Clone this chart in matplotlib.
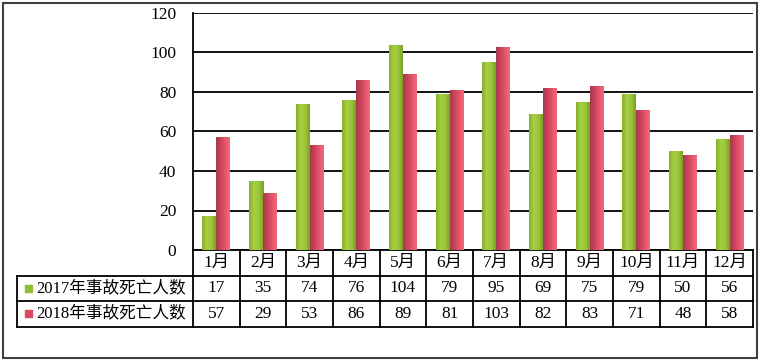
import numpy as np
import matplotlib.pyplot as plt
from matplotlib.colors import LinearSegmentedColormap
from matplotlib.patches import Rectangle
from matplotlib.lines import Line2D

plt.rcParams['font.family'] = ['Liberation Serif', 'Noto Sans CJK SC', 'DejaVu Sans']

months = ['1月', '2月', '3月', '4月', '5月', '6月', '7月', '8月', '9月', '10月', '11月', '12月']
deaths_2017 = [17, 35, 74, 76, 104, 79, 95, 69, 75, 79, 50, 56]
deaths_2018 = [57, 29, 53, 86, 89, 81, 103, 82, 83, 71, 48, 58]
series_names = ['2017年事故死亡人数', '2018年事故死亡人数']

green_cm = LinearSegmentedColormap.from_list('g', ['#86b02c', '#a6cf44', '#9cc63c', '#7a9f26'])
red_cm = LinearSegmentedColormap.from_list('r', ['#a8384b', '#c9445a', '#e3566c', '#f06a7c'])

fig = plt.figure(figsize=(7.6, 3.63), dpi=100)
ax = fig.add_axes([193 / 760, 1 - 250 / 363, 560 / 760, 237 / 363])

x = np.arange(len(months))
w = 0.3
grad = np.linspace(0, 1, 64).reshape(1, -1)


def gradient_bars(xs, vals, cmap):
    bars = ax.bar(xs, vals, width=w, color='none', edgecolor='none', zorder=3)
    for b in bars:
        x0, y0 = b.get_x(), b.get_y()
        im = ax.imshow(grad, cmap=cmap, aspect='auto', zorder=3,
                       extent=[x0, x0 + b.get_width(), y0, y0 + b.get_height()])
        im.set_clip_path(b)


gradient_bars(x - w / 2, deaths_2017, green_cm)
gradient_bars(x + w / 2, deaths_2018, red_cm)

fs = 12.5
ax.set_xlim(-0.5, len(months) - 0.5)
ax.set_ylim(0, 120)
ax.set_yticks(range(0, 121, 20))
ax.tick_params(axis='y', length=0, labelsize=fs, pad=12)
ax.set_xticks([])
ax.yaxis.grid(True, color='black', linewidth=1.3, zorder=1)
ax.set_axisbelow(True)
for s in ['top', 'right', 'bottom']:
    ax.spines[s].set_visible(False)
ax.spines['left'].set_linewidth(1.3)

# data table under the plot
rh = 25.5 / 237
lw = 1.3
legend_left = -176 / 560
n = len(months)
kw = dict(transform=ax.transAxes, color='black', linewidth=lw, clip_on=False)
ax.add_line(Line2D([0, 1], [0, 0], **kw))
for k in range(1, 4):
    ax.add_line(Line2D([legend_left, 1], [-k * rh, -k * rh], **kw))
for i in range(n + 1):
    ax.add_line(Line2D([i / n, i / n], [0, -3 * rh], **kw))
ax.add_line(Line2D([legend_left, legend_left], [-rh, -3 * rh], **kw))

for i, m in enumerate(months):
    cx = (i + 0.5) / n
    ax.text(cx, -0.5 * rh, m, transform=ax.transAxes, ha='center', va='center', fontsize=fs)
    ax.text(cx, -1.5 * rh, str(deaths_2017[i]), transform=ax.transAxes, ha='center', va='center', fontsize=fs)
    ax.text(cx, -2.5 * rh, str(deaths_2018[i]), transform=ax.transAxes, ha='center', va='center', fontsize=fs)

for r, (name, col) in enumerate(zip(series_names, ['#8fbc34', '#d84a60'])):
    yc = -(1.5 + r) * rh
    ax.add_patch(Rectangle((legend_left + 8 / 560, yc - 3.5 / 237), 7 / 560, 7 / 237,
                           transform=ax.transAxes, color=col, clip_on=False))
    ax.text(legend_left + 19 / 560, yc, name, transform=ax.transAxes, ha='left', va='center', fontsize=12)

# outer chart border
fig.add_artist(Rectangle((3 / 760, 1 - 358 / 363), 754 / 760, 355 / 363, transform=fig.transFigure,
                         fill=False, edgecolor='#404040', linewidth=1.5))

fig.savefig('out.png', dpi=100)
